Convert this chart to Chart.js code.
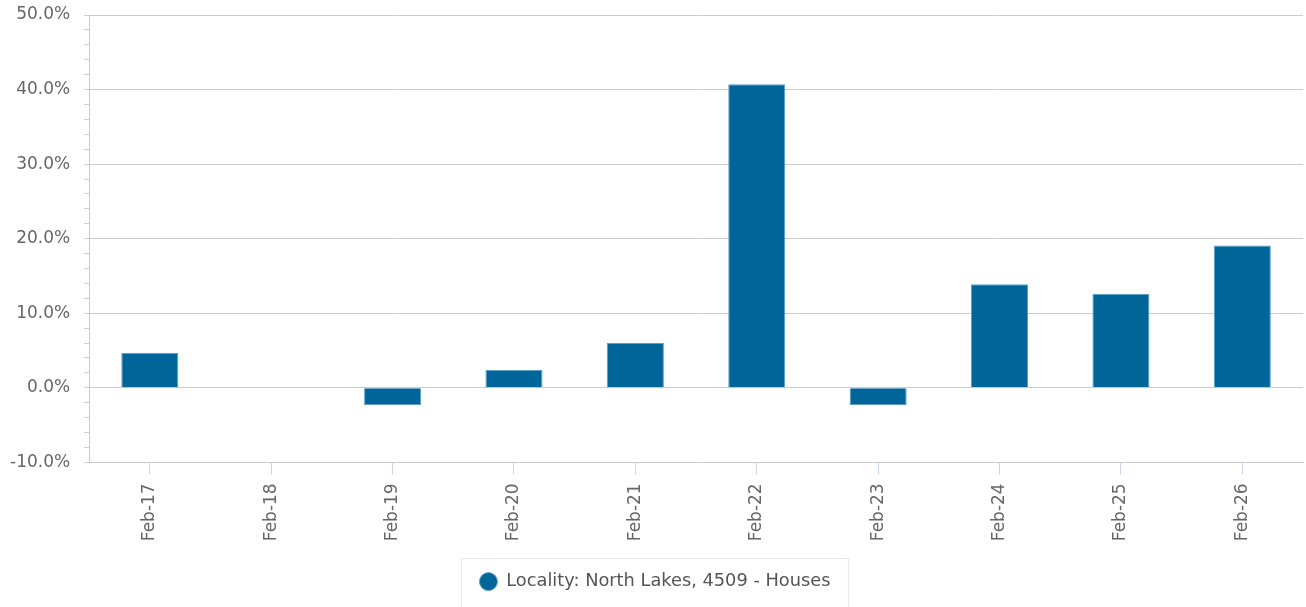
<!DOCTYPE html>
<html>
<head>
<meta charset="utf-8">
<script src="https://cdn.jsdelivr.net/npm/chart.js@4"></script>
<style>
  html, body { margin: 0; padding: 0; background: #fff; }
  #wrap { width: 1306px; height: 607px; }
</style>
</head>
<body>
<div id="wrap"><canvas id="barChart"></canvas></div>
<script>
// Dane wykresu
const labels = ['Feb-17', 'Feb-18', 'Feb-19', 'Feb-20', 'Feb-21', 'Feb-22', 'Feb-23', 'Feb-24', 'Feb-25', 'Feb-26'];
const growth = [4.7, 0, -2.3, 2.4, 6.0, 40.7, -2.3, 13.9, 12.6, 19.1];
const seriesName = 'Locality: North Lakes, 4509 - Houses';
const yMin = -10;
const yMax = 50;

const FONT = "'DejaVu Sans', sans-serif";

// Ramka wokół legendy
const legendBox = {
    id: 'legendBox',
    afterDraw(chart) {
        const lg = chart.legend;
        if (!lg || !lg.legendHitBoxes.length) return;
        const hb = lg.legendHitBoxes[0];
        const ctx = chart.ctx;
        ctx.save();
        ctx.strokeStyle = '#e6e6e6';
        ctx.lineWidth = 1;
        const cy = hb.top + hb.height / 2;
        ctx.strokeRect(Math.round(hb.left) - 18.5, Math.round(cy) - 23.5, hb.width + 36, 60);
        ctx.restore();
    }
};

const ctx = document.getElementById('barChart').getContext('2d');
const barChart = new Chart(ctx, {
    type: 'bar',
    data: {
        labels: labels,
        datasets: [{
            label: seriesName,
            data: growth,
            backgroundColor: '#006699',
            borderColor: '#5c9ec4',
            borderWidth: 1,
            barPercentage: 0.47,
            categoryPercentage: 1.0,
            pointStyle: 'circle'
        }]
    },
    options: {
        responsive: true,
        maintainAspectRatio: false,
        animation: false,
        layout: { padding: { top: 15, right: 3, left: 7, bottom: 6.5 } },
        plugins: {
            tooltip: { enabled: false },
            legend: {
                position: 'bottom',
                labels: {
                    usePointStyle: true,
                    boxWidth: 18,
                    boxHeight: 12.7,
                    padding: 22.5,
                    color: '#555',
                    font: { family: FONT, size: 17.8 }
                }
            }
        },
        scales: {
            x: {
                grid: {
                    offset: false,
                    drawOnChartArea: false,
                    tickColor: '#ccd6eb',
                    tickLength: 12
                },
                border: { color: '#c8c8c8' },
                ticks: {
                    maxRotation: 90,
                    minRotation: 90,
                    color: '#666',
                    padding: 9,
                    font: { family: FONT, size: 17 }
                }
            },
            y: {
                min: yMin,
                max: yMax,
                grid: {
                    color: c => (c.tick && c.tick.value % 10 === 0) ? '#cccccc' : 'rgba(0,0,0,0)',
                    tickColor: '#cccccc',
                    tickLength: 16,
                    // tylko 5px kreski przy osi, reszta to odstęp do etykiet
                    tickBorderDash: [5, 11],
                    tickBorderDashOffset: 5
                },
                border: { color: '#c8c8c8' },
                ticks: {
                    stepSize: 2,
                    autoSkip: false,
                    padding: 3,
                    color: '#666',
                    font: { family: FONT, size: 17 },
                    callback: v => (v % 10 === 0) ? v.toFixed(1) + '%' : ''
                }
            }
        }
    },
    plugins: [legendBox]
});
</script>
</body>
</html>
